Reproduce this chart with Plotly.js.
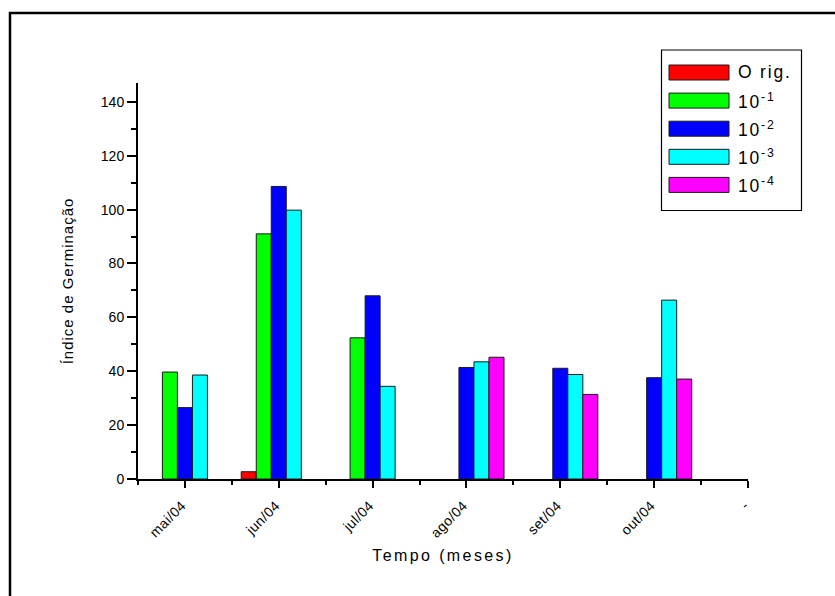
<!DOCTYPE html>
<html>
<head>
<meta charset="utf-8">
<script src="https://cdn.plot.ly/plotly-3.0.1.min.js"></script>
<style>
  html, body { margin: 0; padding: 0; background: #fff; }
  #chart { width: 835px; height: 596px; }
  .xtitle { letter-spacing: 2.4px; }
  .ytitle { letter-spacing: 1px; }
  .annotation-text { letter-spacing: 1.8px; }
  .xtick text { letter-spacing: 0.4px; }
</style>
</head>
<body>
<div id="chart"></div>
<script>
// ---- data ----
const months = ['mai/04', 'jun/04', 'jul/04', 'ago/04', 'set/04', 'out/04', '-'];
const seriesNames = ['O rig.', '10<sup>-1</sup>', '10<sup>-2</sup>', '10<sup>-3</sup>', '10<sup>-4</sup>'];
const orig = [null, 2.7, null, null, null, null, null];
const dil1 = [39.7, 91.0, 52.4, null, null, null, null];
const dil2 = [26.5, 108.6, 68.0, 41.4, 41.1, 37.6, null];
const dil3 = [38.6, 99.8, 34.4, 43.5, 38.8, 66.4, null];
const dil4 = [null, null, null, 45.2, 31.4, 37.1, null];
const yTicks = [0, 20, 40, 60, 80, 100, 120, 140];

const colors = ['#FF0000', '#00FF00', '#0000FF', '#00FFFF', '#FF00FF'];
const allSeries = [orig, dil1, dil2, dil3, dil4];
const xIdx = months.map((m, i) => i);

// plot area in pixels
const W = 835, H = 596;
const L = 138, R = 748, T = 83, B = 479;
const px2x = p => (p - L) / (R - L);
const py2y = p => (B - p) / (B - T);

const traces = allSeries.map((vals, k) => ({
  type: 'bar',
  x: xIdx,
  y: vals,
  name: seriesNames[k],
  marker: { color: colors[k], line: { color: '#1a1a1a', width: 1 } },
  showlegend: false,
  hoverinfo: 'x+y'
}));

const shapes = [];
const annotations = [];

// outer frame
shapes.push({
  type: 'rect', xref: 'paper', yref: 'paper',
  x0: px2x(10), x1: px2x(845), y0: py2y(605), y1: py2y(13),
  line: { color: '#000', width: 2.5 }, fillcolor: 'rgba(0,0,0,0)', layer: 'below'
});

// legend box
shapes.push({
  type: 'rect', xref: 'paper', yref: 'paper',
  x0: px2x(661.5), x1: px2x(801.5), y0: py2y(210.5), y1: py2y(50),
  line: { color: '#000', width: 1.2 }, fillcolor: '#fff'
});
seriesNames.forEach((nm, k) => {
  const top = 65 + k * 28.1;
  shapes.push({
    type: 'rect', xref: 'paper', yref: 'paper',
    x0: px2x(669), x1: px2x(729), y0: py2y(top + 15), y1: py2y(top),
    line: { color: '#1a1a1a', width: 1 }, fillcolor: colors[k]
  });
  annotations.push({
    xref: 'paper', yref: 'paper', x: px2x(736), y: py2y(top + 7.5),
    xanchor: 'left', yanchor: 'middle', showarrow: false,
    text: nm, font: { family: 'Liberation Sans, Arial, sans-serif', size: 17.5, color: '#000' }
  });
});

const layout = {
  width: W, height: H,
  margin: { l: L, r: W - R, t: T, b: H - B, pad: 0 },
  paper_bgcolor: '#fff', plot_bgcolor: '#fff',
  font: { family: 'Liberation Sans, Arial, sans-serif', color: '#000', size: 13 },
  barmode: 'group', bargap: 0.2, bargroupgap: 0,
  xaxis: {
    type: 'linear', range: [-0.5, 6],
    tickmode: 'array', tickvals: xIdx, ticktext: months, tickangle: -45,
    ticks: 'outside', ticklen: 7, tickwidth: 2, tickcolor: '#000',
    ticklabelstandoff: 4, ticklabelshift: -3,
    minor: { tickmode: 'linear', tick0: 0.5, dtick: 1, ticks: 'outside', ticklen: 4, tickwidth: 2, tickcolor: '#000' },
    showline: true, linewidth: 2, linecolor: '#000',
    showgrid: false, zeroline: false,
    tickfont: { size: 14 },
    title: { text: 'Tempo (meses)', font: { size: 16 }, standoff: 10 }
  },
  yaxis: {
    range: [0, 147],
    tickmode: 'array', tickvals: yTicks,
    ticks: 'outside', ticklen: 9, tickwidth: 2, tickcolor: '#000',
    minor: { tickmode: 'linear', tick0: 10, dtick: 20, ticks: 'outside', ticklen: 5, tickwidth: 2, tickcolor: '#000' },
    showline: true, linewidth: 2, linecolor: '#000',
    showgrid: false, zeroline: false,
    tickfont: { size: 14 },
    title: { text: 'Índice de Germinação', font: { size: 15 }, standoff: 24 }
  },
  shapes: shapes,
  annotations: annotations
};

Plotly.newPlot('chart', traces, layout, { staticPlot: true, displayModeBar: false });
</script>
</body>
</html>
